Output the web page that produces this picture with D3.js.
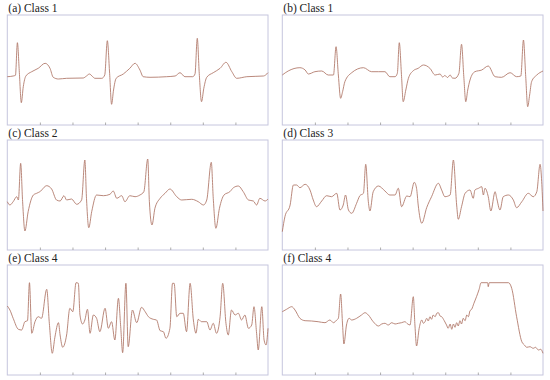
<!DOCTYPE html>
<html>
<head>
<meta charset="utf-8">
<script src="https://cdn.jsdelivr.net/npm/d3@7"></script>
<style>
  body { margin: 0; background: #fff; }
  svg { display: block; }
  .ttl { font-family: "Liberation Serif", "Times New Roman", Times, serif; font-size: 11.5px; fill: #222; }
</style>
</head>
<body>
<div id="chart"></div>
<script>
// panel titles
const titles = ["(a) Class 1", "(b) Class 1", "(c) Class 2", "(d) Class 3", "(e) Class 4", "(f) Class 4"];
const tickVals = [100, 200, 300, 400, 500, 600, 700];

// [sample, amplitude]
const sigA = [[0,48.3],[18,49],[25,49.7],[31,82.3],[37,52.3],[43,22.3],[49,38.3],[57,49],[75,53.3],[95,56.7],[116,61.7],[131,56.7],[141,47.7],[157,46],[182,46.7],[233,47],[243,49],[252,51],[262,48.3],[269,46.7],[290,46.7],[299,50],[307,84.3],[314,51.7],[320,20.7],[326,35],[334,46.7],[356,51],[376,56.7],[392,61.7],[407,55],[417,48.3],[438,47.7],[489,48.3],[515,49],[530,52.3],[545,48.3],[569,48.3],[576,51],[583,86.7],[589,51.7],[596,23.3],[603,36.7],[612,47.7],[632,52.3],[653,56.7],[671,62.7],[689,53.3],[704,46.7],[735,48.3],[786,49],[800,52.3]];

const sigB = [[0,50],[18,54],[54,57.3],[70,55],[80,51],[100,53.3],[121,54],[141,50],[157,50],[165,78.3],[172,50],[179,26.7],[185,33.3],[192,43.3],[213,52.3],[249,57.3],[274,53.3],[295,53.3],[315,53.3],[330,48.3],[346,48.3],[353,51.7],[359,82.3],[366,48.3],[371,23.3],[379,35],[387,46.7],[402,54.3],[417,56.7],[433,60],[453,56.7],[469,50],[484,51],[492,48],[499,49.5],[507,47.5],[515,50],[522,47],[530,46.7],[542,51.7],[550,80.7],[557,48.3],[563,23.3],[569,35],[576,45],[591,53.3],[612,55],[632,59],[653,48.3],[673,47.7],[699,52.3],[719,48.3],[732,49],[740,85],[747,48.3],[753,18.3],[759,30],[765,43.3],[781,50],[800,54]];

const sigC = [[0,48.3],[8,45],[18,48.3],[29,53.3],[34,50],[41,86.7],[47,48.3],[54,19],[64,38.3],[80,55],[90,56.7],[100,58.3],[121,64.3],[136,61],[151,50],[162,49],[174,54.3],[182,50],[197,51],[213,45.7],[228,50],[238,90],[243,51.7],[250,22.3],[259,38.3],[274,55],[295,54.3],[315,55.7],[325,59],[336,51.7],[351,54.3],[361,48.3],[376,54.3],[392,53.3],[407,55],[419,58.3],[431,91],[436,48.3],[444,25],[453,41.7],[469,51.7],[484,56.7],[499,61],[520,53.3],[535,50],[566,50.7],[586,48.3],[602,45],[612,50],[626,87.7],[632,51.7],[640,21.7],[651,41.7],[665,55],[683,58.3],[694,62.3],[709,64],[724,58.3],[740,50],[755,49],[765,45],[775,51.7],[791,49],[800,51]];

const sigD = [[0,18.3],[8,33.3],[24,45],[34,65],[44,65],[54,62.3],[70,65.7],[85,60],[95,50],[105,43.3],[121,49],[136,54.3],[151,53.3],[167,56.7],[177,40],[187,45],[194,55],[203,40],[213,36.7],[228,46.7],[238,54.3],[249,56.7],[256,85.7],[264,48.3],[269,39],[279,58.3],[295,64],[315,59],[330,55],[346,55],[356,61.7],[366,43.3],[382,54],[392,53.3],[405,67.7],[412,61.7],[417,45],[428,26.7],[443,42.3],[458,53.3],[479,66.7],[489,60],[499,53.3],[515,55],[525,90],[535,45],[540,30.7],[550,43.3],[561,56.7],[576,60],[586,51.7],[591,60],[602,61.7],[612,63.3],[617,55],[622,61.7],[632,53.3],[640,39],[653,58.3],[658,51.7],[668,40],[678,53.3],[694,55],[709,50],[719,42.3],[735,48.3],[755,56.7],[770,53.3],[781,58.3],[791,85.7],[796,68.3],[800,39]];

const sigE = [[0,69],[8,65],[18,56.7],[34,45.7],[44,45],[54,53.3],[62,54.3],[68,92.3],[75,41.7],[85,53.3],[95,58.3],[105,56.7],[121,85.7],[129,51.7],[138,21.7],[146,37.7],[157,52.3],[162,40],[170,27.7],[182,40],[192,66.7],[201,63.3],[211,92.3],[218,91.7],[223,60],[231,51],[238,55],[246,65.7],[254,41.7],[264,60],[274,56.7],[284,43.3],[300,66.7],[310,46.7],[320,53.3],[330,35],[341,76.7],[348,48.3],[354,22.3],[364,91.7],[371,28.3],[384,65],[397,52.3],[412,67.7],[423,63.3],[433,58.3],[448,55.7],[458,55],[469,44.3],[479,43.3],[487,36.7],[499,46.7],[507,91.7],[512,91.7],[520,58.3],[530,61.7],[540,61.7],[550,43.3],[561,91.7],[571,55],[579,41.7],[586,55.7],[596,53.3],[612,53.3],[622,45],[632,51.7],[642,41.7],[653,58.3],[661,91.7],[671,51.7],[678,40],[688,65],[699,60],[709,61.7],[719,55],[729,60],[740,46.7],[750,50],[757,68.3],[765,41.7],[770,25],[781,68.3],[788,35],[794,30],[800,46.7]];

const sigF = [[0,63.3],[13,65.7],[29,68.3],[39,65],[54,56.7],[70,54.3],[90,54],[110,53.3],[131,52.3],[146,55],[157,52.3],[167,55],[172,56.7],[179,81],[185,50],[189,31],[197,50],[205,56.7],[213,55],[228,56.7],[243,60],[254,62.3],[264,60],[279,53.3],[295,49],[305,51],[315,51.7],[325,50],[336,52.3],[346,51],[356,51.7],[366,52.3],[376,53.3],[385,51],[392,50],[402,78.3],[407,50],[412,29],[420,46.7],[428,55],[433,51.7],[438,53.3],[443,56.7],[448,54],[453,58.3],[458,55.7],[463,60],[469,58.3],[474,61.7],[479,62.3],[484,59],[489,58.3],[497,54.3],[504,50],[509,46.7],[515,51],[520,45.7],[525,51],[530,47.7],[535,52.3],[540,49],[545,54.3],[550,51],[555,56.7],[561,54.3],[566,60],[571,58.3],[576,64.3],[581,65.7],[588,71.7],[596,78.3],[604,85.7],[610,92.3],[630,92.3],[632,88.3],[635,92.3],[694,92.3],[704,86.7],[719,58.3],[735,33.3],[743,30],[750,27.7],[760,28.3],[770,26.7],[777,27.7],[786,25],[793,25.7],[800,21.7]];

const signals = [sigA, sigB, sigC, sigD, sigE, sigF];

const W = 550, H = 380;
const colX = [7.3, 282.3], rowY = [15, 140, 265];
const pw = 260.7, ph = 110;

const svg = d3.select("#chart").append("svg")
  .attr("width", W).attr("height", H)
  .attr("viewBox", `0 0 ${W} ${H}`);

const x = d3.scaleLinear().domain([0, 800]).range([0, pw]);
const y = d3.scaleLinear().domain([0, 110]).range([ph, 0]);
const line = d3.line().x(d => x(d[0])).y(d => y(d[1])).curve(d3.curveMonotoneX);

signals.forEach((sig, i) => {
  const g = svg.append("g")
    .attr("transform", `translate(${colX[i % 2]},${rowY[Math.floor(i / 2)]})`);

  g.append("text")
    .attr("class", "ttl")
    .attr("x", 1).attr("y", -3)
    .text(titles[i]);

  g.append("rect")
    .attr("width", pw).attr("height", ph)
    .attr("fill", "none")
    .attr("stroke", "#c6c6de")
    .attr("stroke-width", 1);

  const ax = g.append("g")
    .attr("transform", `translate(0,${ph})`)
    .call(d3.axisBottom(x).tickValues(tickVals).tickSize(-2.5).tickFormat(""));
  ax.select(".domain").remove();
  ax.selectAll("line").attr("stroke", "#999").attr("stroke-width", 0.8);

  g.append("path")
    .datum(sig)
    .attr("d", line)
    .attr("fill", "none")
    .attr("stroke", "#ad7464")
    .attr("stroke-width", 0.85);
});
</script>
</body>
</html>
